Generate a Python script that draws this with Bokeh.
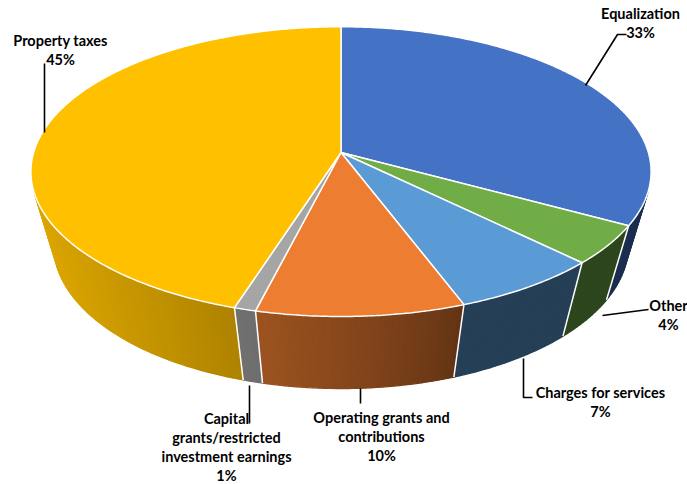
import numpy as np
from bokeh.plotting import figure
from bokeh.embed import file_html
from bokeh.resources import INLINE
from bokeh.core.properties import value

# ---- data ----
categories = ["Equalization", "Other", "Charges for services",
              "Operating grants and contributions",
              "Capital grants/restricted investment earnings", "Property taxes"]
shares = [33.0, 4.4, 6.9, 9.6, 1.0, 45.1]
top_colors = ["#4472C4", "#70AD47", "#5B9BD5", "#ED7D31", "#A5A5A5", "#FFC000"]
label_lines = [["Equalization"], ["Other"], ["Charges for services"],
               ["Operating grants and", "contributions"],
               ["Capital", "grants/restricted", "investment earnings"],
               ["Property taxes"]]

# ---- layout ----
W, H = 687, 484
cx, cy = 340.5, 152.0
FX, FY, D, S, C, HGT = 1631.0, 1058.0, 5.306, 0.714, 0.700, 0.58
label_pos = [(640, 13), (668, 305), (600, 392), (381, 417), (226, 418), (60, 40)]
line_gap = 19
leaders = [
    ([585, 617, 626], [85, 34, 34]),
    ([602, 648], [315, 309]),
    ([523, 523, 532], [358, 397, 397]),
    ([360, 360], [388, 403]),
    ([249, 249], [385, 423]),
    ([44, 44], [132, 63]),
]


def proj(theta, z):
    st, ct = np.sin(theta), np.cos(theta)
    depth = D + st * C - z * S
    return cx + FX * ct / depth, cy - FY * (st * S + z * C) / depth


def shade(rgb_hex, x):
    t = min(max((x - 35.0) / 430.0, 0.0), 1.0)
    fct = 0.41 + 0.45 * (1 - t) ** 0.8
    r = int(rgb_hex[1:3], 16); g = int(rgb_hex[3:5], 16); b = int(rgb_hex[5:7], 16)
    return "#%02x%02x%02x" % (int(r * fct), int(g * fct), int(b * fct))


p = figure(width=W, height=H, x_range=(0, W), y_range=(H, 0),
           x_axis_type=None, y_axis_type=None, toolbar_location=None,
           output_backend="svg", min_border=0)
p.outline_line_color = None
p.grid.visible = False

total = float(sum(shares))
cum = np.concatenate([[0], np.cumsum(shares)]) / total
th0 = np.pi / 2 - 2 * np.pi * cum[:-1]
th1 = np.pi / 2 - 2 * np.pi * cum[1:]

alpha = np.arcsin(1.0 / (D * C))
vis_lo, vis_hi = -np.pi + alpha, -alpha   # visible side range

# side strips
sx, sy, scol = [], [], []
bx, by = [], []
for i in range(len(shares)):
    a, b = th0[i], th1[i]
    for off in (0.0, -2 * np.pi, 2 * np.pi):
        hi = min(a + off, vis_hi)
        lo = max(b + off, vis_lo)
        if hi <= lo:
            continue
        n = max(2, int(np.degrees(hi - lo) / 1.0) + 1)
        ts = np.linspace(hi, lo, n)
        for k in range(n - 1):
            t1, t2 = ts[k], ts[k + 1]
            x1, y1 = proj(t1, 0); x2, y2 = proj(t2, 0)
            x3, y3 = proj(t2, -HGT); x4, y4 = proj(t1, -HGT)
            sx.append([x1, x2, x3, x4]); sy.append([y1, y2, y3, y4])
            scol.append(shade(top_colors[i], (x1 + x2) / 2))
for t in list(th0):
    for off in (0.0, -2 * np.pi):
        tt = t + off
        if vis_lo < tt < vis_hi:
            xa, ya = proj(tt, 0); xb, yb = proj(tt, -HGT)
            bx.append([xa, xb]); by.append([ya, yb])

p.patches(sx, sy, fill_color=scol, line_color=scol, line_width=1.3)
p.multi_line(bx, by, line_color="white", line_width=1.5)

# top faces
tx, ty = [], []
for i in range(len(shares)):
    n = max(3, int(np.degrees(th0[i] - th1[i]) / 0.5) + 2)
    ts = np.linspace(th0[i], th1[i], n)
    xs, ys = proj(ts, 0)
    tx.append([cx] + list(xs)); ty.append([cy] + list(ys))
p.patches(tx, ty, fill_color=top_colors, line_color="white", line_width=1.5)

# leaders
p.multi_line([l[0] for l in leaders], [l[1] for l in leaders],
             line_color="black", line_width=1.6)

# labels
txt_x, txt_y, txt = [], [], []
for i in range(len(shares)):
    x0, y0 = label_pos[i]
    lines = label_lines[i] + ["%d%%" % round(shares[i])]
    for j, ln in enumerate(lines):
        txt_x.append(x0); txt_y.append(y0 + j * line_gap); txt.append(ln)
p.text(txt_x, txt_y, text=txt, text_font=value("Lato"), text_font_style="bold",
       text_font_size="14.5px", text_align="center", text_baseline="middle",
       text_color="#000000")

open("out.html", "w").write(file_html(p, INLINE))
